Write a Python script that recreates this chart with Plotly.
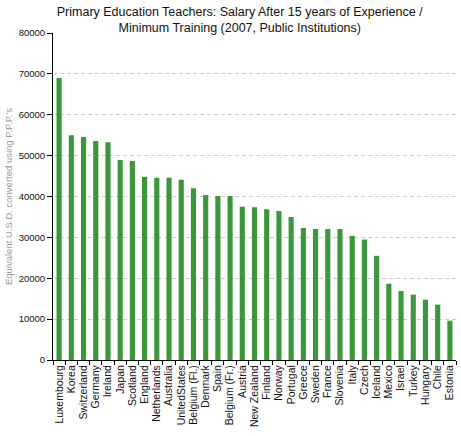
import plotly.graph_objects as go

countries = ["Luxembourg", "Korea", "Switzerland", "Germany", "Ireland", "Japan", "Scotland",
             "England", "Netherlands", "Australia", "UnitedStates", "Belgium (Fl.)", "Denmark",
             "Spain", "Belgium (Fr.)", "Austria", "New Zealand", "Finland", "Norway", "Portugal",
             "Greece", "Sweden", "France", "Slovenia", "Italy", "Czech", "Iceland", "Mexico",
             "Israel", "Turkey", "Hungary", "Chile", "Estonia"]
salary = [68980, 55000, 54580, 53600, 53300, 48900, 48660,
          44830, 44590, 44600, 44100, 42000, 40370,
          40120, 40100, 37500, 37400, 36870, 36460, 35000,
          32320, 32070, 32070, 32070, 30370, 29470, 25490, 18660,
          16870, 15980, 14760, 13540, 9630]
y_ticks = [0, 10000, 20000, 30000, 40000, 50000, 60000, 70000, 80000]

fig = go.Figure(go.Bar(x=countries, y=salary, marker=dict(color="#3a983a", line=dict(width=0)),
                       width=0.42))

fig.update_layout(
    width=461, height=436,
    margin=dict(l=53, r=5, t=33, b=76),
    paper_bgcolor="white", plot_bgcolor="white",
    font=dict(family="Liberation Sans, Arial, sans-serif", color="#111111"),
    title=dict(text="Primary Education Teachers: Salary After 15 years of Experience /<br>Minimum Training (2007, Public Institutions)",
               x=0.52, xanchor="center", yref="container", y=1 - 16 / 436, yanchor="middle",
               font=dict(size=12.5, color="#111111")),
    showlegend=False,
)
fig.update_yaxes(range=[0, 80000], tickmode="array", tickvals=y_ticks,
                 ticktext=[str(v) for v in y_ticks], automargin=False,
                 showline=True, linecolor="black", linewidth=1,
                 ticks="outside", ticklen=5, tickcolor="black",
                 showgrid=True, gridcolor="#cccccc", griddash="4px,3px", gridwidth=1,
                 zeroline=False, tickfont=dict(size=9.5),
                 title=dict(text="Equivalent U.S.D. converted using P.P.P.'s",
                            font=dict(size=9.5, color="#999999"), standoff=4))
fig.update_xaxes(tickmode="array", tickvals=countries, ticktext=countries, automargin=False,
                 showline=True, linecolor="black", linewidth=1,
                 ticks="outside", ticklen=4, tickcolor="black", tickson="boundaries",
                 tickangle=-90, tickfont=dict(size=10.5), showgrid=False)

fig.write_html("out.html", config={"displayModeBar": False},
               post_script="document.body.style.margin='0';document.body.style.overflow='hidden';")
